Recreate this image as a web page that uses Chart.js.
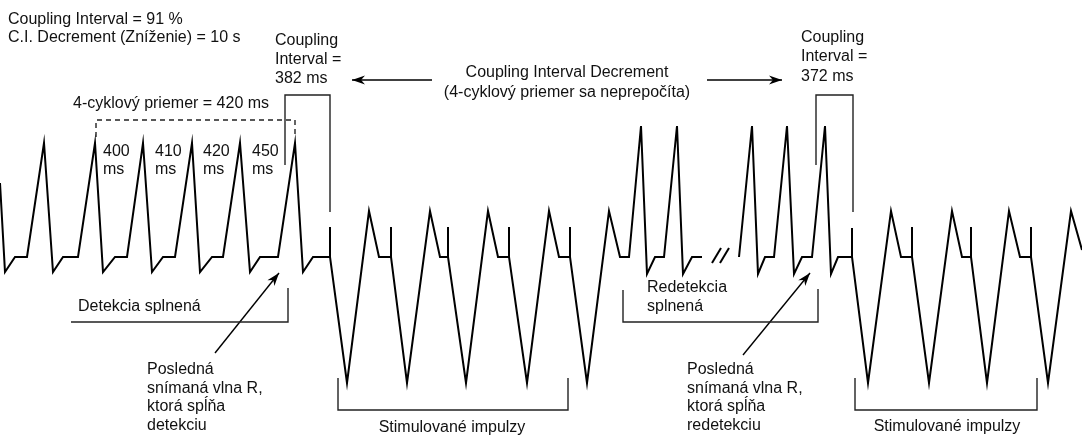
<!DOCTYPE html>
<html>
<head>
<meta charset="utf-8">
<script src="https://cdn.jsdelivr.net/npm/chart.js@4"></script>
<style>
  body { margin:0; background:#fff; }
  canvas { display:block; }
</style>
</head>
<body>
<canvas id="ekg" width="1082" height="435"></canvas>
<script>

/* SIGNAL (x = time, y = amplitude, screen units) */

const vlnaX = [0,5,15,27,44,53,63,78,95,103,115,127,143,152,163,175,192,200,212,223,240,250,260,278,295,303,313,330,330,330,
    347,369,379,391,391,391,407,430,440,448,448,448,466,488,498,509,509,509,527,549,559,570,570,570,587,609,620,629,
    641,647,655,664,677,683,692,702];
const vlnaY = [183,272,257,257,143,272,257,257,143,272,257,257,143,272,257,257,143,272,257,257,143,272,257,257,143,272,257,257,227,257,
    383,211,257,257,227,257,383,211,257,257,227,257,383,211,257,257,227,257,383,211,257,257,227,257,383,211,257,257,
    126,274,257,257,126,274,257,257];

const vlna2X = [739,752,758,765,774,787,794,802,812,825,831,838,852,852,852,868,891,901,912,912,912,929,952,962,971,971,971,
    987,1009,1020,1031,1031,1031,1048,1071,1082];
const vlna2Y = [257,126,274,257,257,126,274,257,257,126,274,257,257,228,257,383,211,257,257,227,257,383,211,257,257,227,257,
    383,211,257,257,227,257,383,211,250];

/* BRACKETS */

const ci1X = [285,285,330,330],  ci1Y = [165,95,95,212];
const ci2X = [816,816,853,853],  ci2Y = [165,95,95,212];
const priemerX = [96,96,295,295], priemerY = [137,120,120,137];
const detekciaX = [71,288,288],   detekciaY = [322,322,288];
const stim1X = [338,338,568,568], stim1Y = [378,410,410,378];
const redetX = [623,623,818,818], redetY = [290,322,322,289];
const stim2X = [855,855,1037,1037], stim2Y = [378,410,410,378];
const lomX1 = [712,721], lomY1 = [263,248];
const lomX2 = [720,729], lomY2 = [263,248];

/* ARROWS */

const sipky = [
    [[432,80],[352,80]],
    [[707,80],[782,80]],
    [[215,353],[279,273]],
    [[743,355],[810,273]]
];

/* TEXTS [text, x, y, align] */

const texty = [
    ['Coupling Interval = 91 %',8,20,'left'],
    ['C.I. Decrement (Zníženie) = 10 s',8,38,'left'],
    ['Coupling',275,41,'left'],
    ['Interval =',275,60,'left'],
    ['382 ms',275,79,'left'],
    ['Coupling Interval Decrement',567,73,'center'],
    ['(4-cyklový priemer sa neprepočíta)',567,93,'center'],
    ['Coupling',801,38,'left'],
    ['Interval =',801,57,'left'],
    ['372 ms',801,77,'left'],
    ['4-cyklový priemer = 420 ms',73,104,'left'],
    ['400',103,152,'left'],['ms',103,170,'left'],
    ['410',155,152,'left'],['ms',155,170,'left'],
    ['420',203,152,'left'],['ms',203,170,'left'],
    ['450',252,152,'left'],['ms',252,170,'left'],
    ['Detekcia splnená',78,307,'left'],
    ['Posledná',147,370,'left'],
    ['snímaná vlna R,',147,389,'left'],
    ['ktorá spĺňa',147,407,'left'],
    ['detekciu',147,426,'left'],
    ['Stimulované impulzy',452,428,'center'],
    ['Redetekcia',647,288,'left'],
    ['splnená',647,307,'left'],
    ['Posledná',687,370,'left'],
    ['snímaná vlna R,',687,389,'left'],
    ['ktorá spĺňa',687,407,'left'],
    ['redetekciu',687,426,'left'],
    ['Stimulované impulzy',947,427,'center']
];

function body(xs,ys){
    return xs.map((x,i)=>({x:x,y:ys[i]}));
}

function ciara(xs,ys,width,color,dash){
    return {
        data:body(xs,ys),
        showLine:true,
        pointRadius:0,
        borderColor:color,
        borderWidth:width,
        borderDash:dash || [],
        tension:0,
        fill:false
    };
}

const datasets = [
    ciara(vlnaX,vlnaY,2,'#000'),
    ciara(vlna2X,vlna2Y,2,'#000'),
    ciara(lomX1,lomY1,2,'#000'),
    ciara(lomX2,lomY2,2,'#000'),
    ciara(ci1X,ci1Y,1.4,'#222'),
    ciara(ci2X,ci2Y,1.4,'#222'),
    ciara(priemerX,priemerY,1.4,'#222',[5,4]),
    ciara(detekciaX,detekciaY,1.4,'#222'),
    ciara(stim1X,stim1Y,1.4,'#222'),
    ciara(redetX,redetY,1.4,'#222'),
    ciara(stim2X,stim2Y,1.4,'#222')
];

sipky.forEach(s=>{
    datasets.push(ciara([s[0][0],s[1][0]],[s[0][1],s[1][1]],1.4,'#000'));
});

/* arrow heads + texts */

const popisy = {
    id:'popisy',
    afterDatasetsDraw(chart){
        const ctx = chart.ctx;
        const sx = chart.scales.x, sy = chart.scales.y;
        ctx.save();

        ctx.fillStyle = '#000';
        sipky.forEach(s=>{
            const x0 = sx.getPixelForValue(s[0][0]), y0 = sy.getPixelForValue(s[0][1]);
            const x1 = sx.getPixelForValue(s[1][0]), y1 = sy.getPixelForValue(s[1][1]);
            const a = Math.atan2(y1-y0,x1-x0);
            const len = 13, w = 4.5;
            ctx.beginPath();
            ctx.moveTo(x1,y1);
            ctx.lineTo(x1-len*Math.cos(a)+w*Math.sin(a), y1-len*Math.sin(a)-w*Math.cos(a));
            ctx.lineTo(x1-len*0.7*Math.cos(a), y1-len*0.7*Math.sin(a));
            ctx.lineTo(x1-len*Math.cos(a)-w*Math.sin(a), y1-len*Math.sin(a)+w*Math.cos(a));
            ctx.closePath();
            ctx.fill();
        });

        ctx.font = '16px "Liberation Sans", Arial, sans-serif';
        ctx.fillStyle = '#111';
        ctx.textBaseline = 'middle';
        texty.forEach(t=>{
            ctx.textAlign = t[3];
            ctx.fillText(t[0], sx.getPixelForValue(t[1]), sy.getPixelForValue(t[2]));
        });

        ctx.restore();
    }
};

new Chart(document.getElementById('ekg'),{
    type:'scatter',
    data:{datasets:datasets},
    options:{
        responsive:false,
        animation:false,
        layout:{padding:0},
        plugins:{legend:{display:false},tooltip:{enabled:false}},
        scales:{
            x:{type:'linear',min:0,max:1082,display:false},
            y:{type:'linear',min:0,max:435,reverse:true,display:false}
        }
    },
    plugins:[popisy]
});

</script>
</body>
</html>
